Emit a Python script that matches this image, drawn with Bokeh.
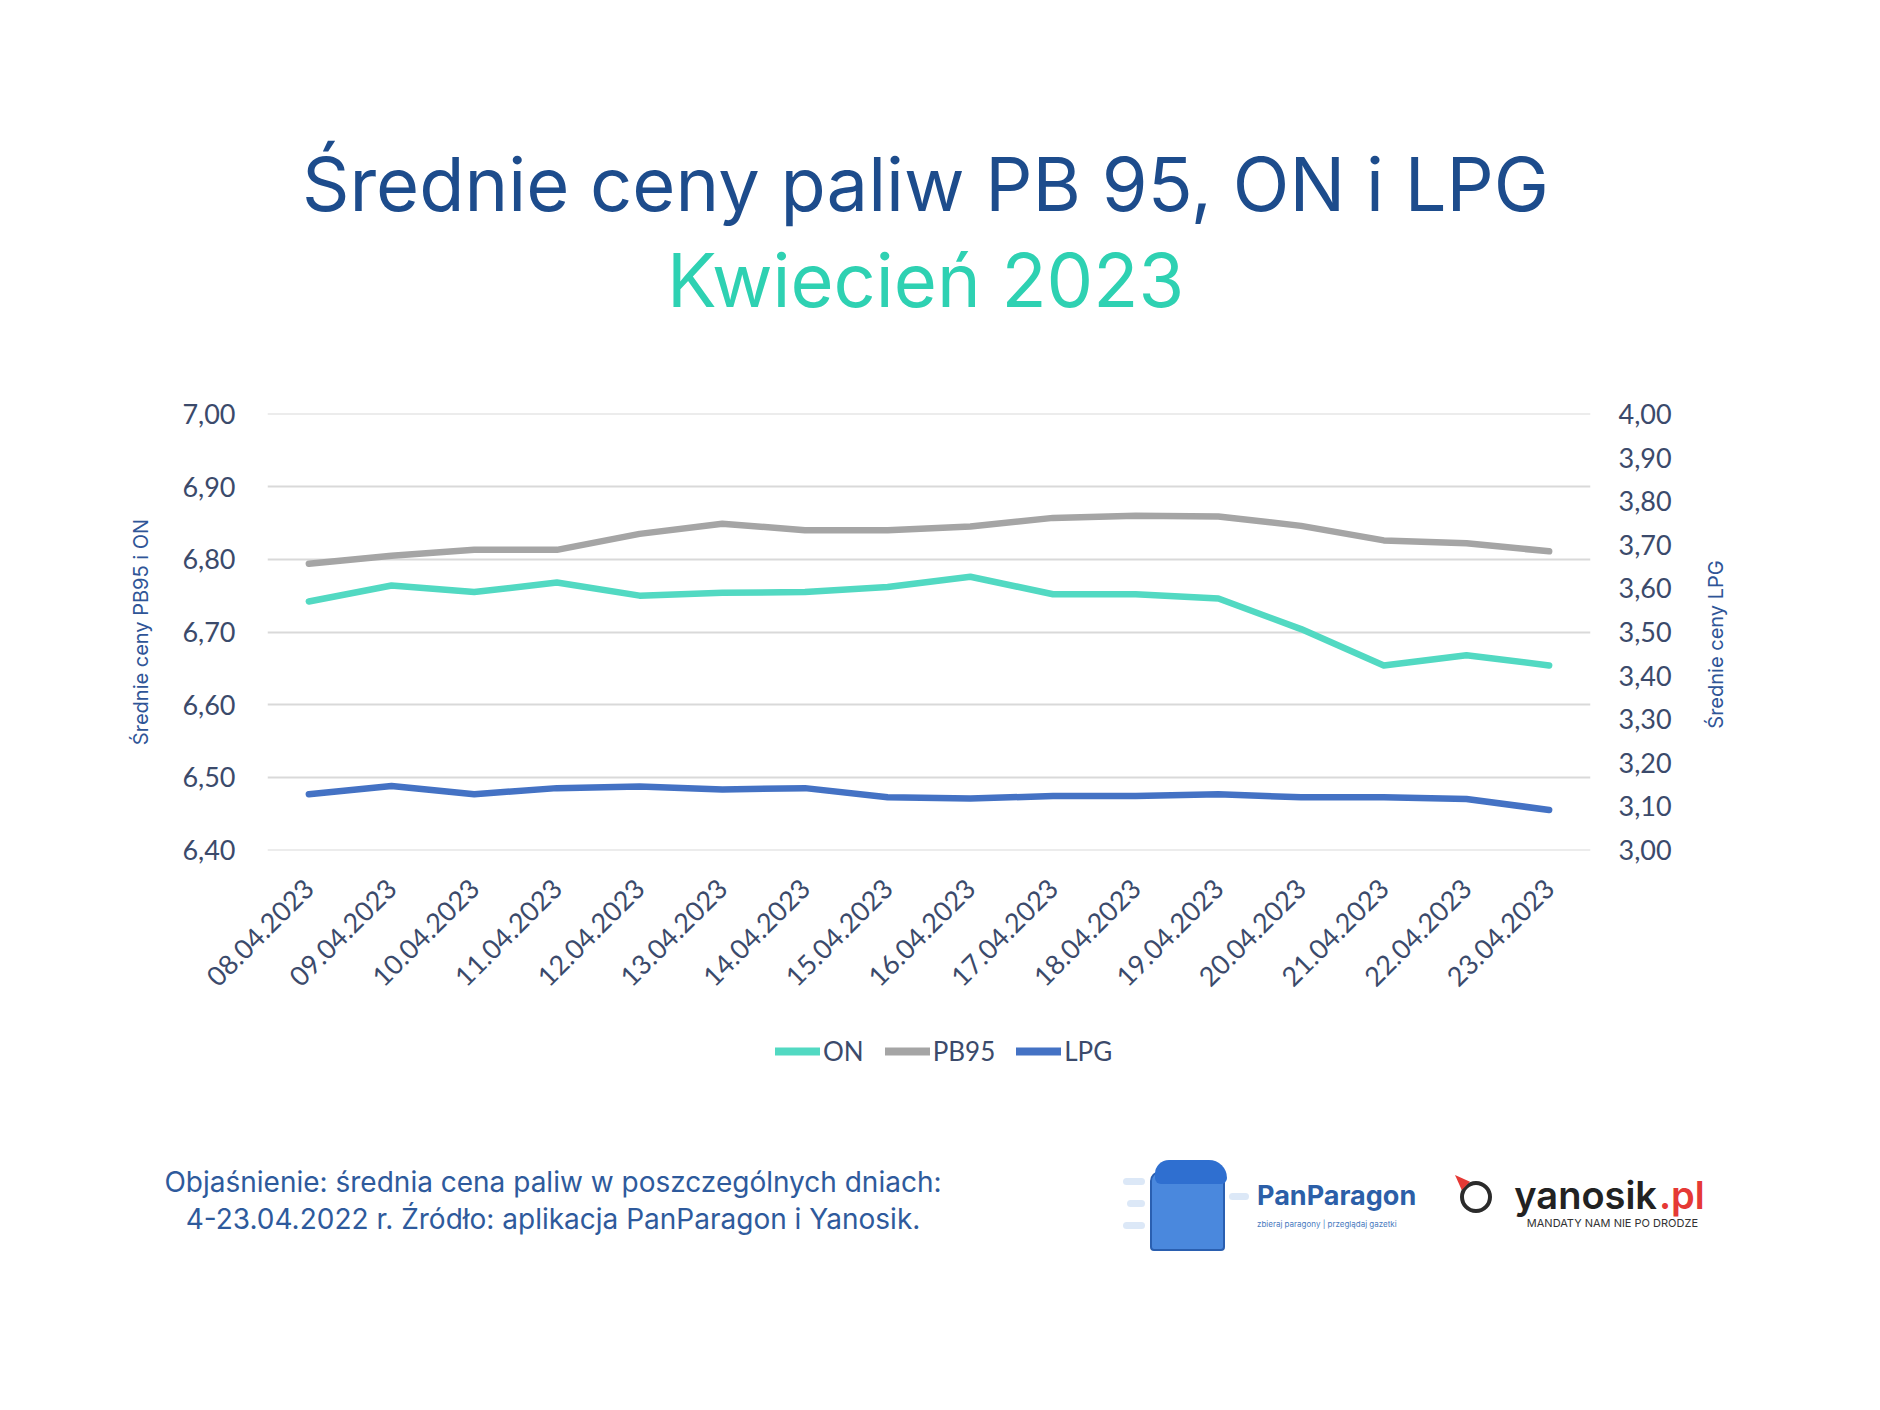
import math
from bokeh.plotting import figure
from bokeh.models import (Range1d, FactorRange, LinearAxis, FixedTicker, Label,
                          Legend, LegendItem, Div)
from bokeh.layouts import column, row
from bokeh.embed import file_html
from bokeh.resources import INLINE

# ---------------- data ----------------
dates = ["08.04.2023", "09.04.2023", "10.04.2023", "11.04.2023", "12.04.2023",
         "13.04.2023", "14.04.2023", "15.04.2023", "16.04.2023", "17.04.2023",
         "18.04.2023", "19.04.2023", "20.04.2023", "21.04.2023", "22.04.2023",
         "23.04.2023"]
on_prices = [6.742, 6.764, 6.755, 6.768, 6.750, 6.754, 6.755, 6.762,
             6.776, 6.752, 6.752, 6.746, 6.704, 6.654, 6.668, 6.654]
pb95_prices = [6.794, 6.805, 6.813, 6.813, 6.835, 6.849, 6.840, 6.840,
               6.845, 6.857, 6.860, 6.859, 6.846, 6.826, 6.822, 6.811]
lpg_prices = [3.128, 3.147, 3.128, 3.142, 3.146, 3.139, 3.142, 3.121,
              3.118, 3.124, 3.124, 3.128, 3.121, 3.121, 3.117, 3.092]
series_names = ["ON", "PB95", "LPG"]

left_ticks = [6.40, 6.50, 6.60, 6.70, 6.80, 6.90, 7.00]
left_tick_labels = ["6,40", "6,50", "6,60", "6,70", "6,80", "6,90", "7,00"]
right_ticks = [3.00, 3.10, 3.20, 3.30, 3.40, 3.50, 3.60, 3.70, 3.80, 3.90, 4.00]
right_tick_labels = ["3,00", "3,10", "3,20", "3,30", "3,40", "3,50", "3,60",
                     "3,70", "3,80", "3,90", "4,00"]

title_text = "Średnie ceny paliw PB 95, ON i LPG"
subtitle_text = "Kwiecień 2023"
left_axis_title = "Średnie ceny PB95 i ON"
right_axis_title = "Średnie ceny LPG"
footer_lines = ["Objaśnienie: średnia cena paliw w poszczególnych dniach:",
                "4-23.04.2022 r. Źródło: aplikacja PanParagon i Yanosik."]

# ---------------- styles ----------------
C_ON = "#52D9C2"
C_PB = "#A5A5A5"
C_LPG = "#4472C4"
C_TICK = "#3B4A6B"
C_AXT = "#2F5597"
C_TITLE = "#1D4C8C"
C_SUB = "#2ED1B2"
C_FOOT = "#2E5A9C"
TICK_FONT = "Lato"
TEXT_FONT = "Inter"

PW = 1864                      # page content width
TOP_END = 370                  # title strip: y 0..370
CHART_END = 1020               # chart strip: y 370..1020
LEG_END = 1100                 # legend strip: y 1020..1100
PAGE_B = 1394                  # footer strip: y 1100..1394
FRAME_L, FRAME_R, FRAME_T, FRAME_B = 267, 1590, 413, 850
CHART_W = 1690                 # chart figure width; right title strip after it
BASE_K = 0.39                  # baseline correction (em) for canvas labels


def strip(x0, x1, y0, y1, w, h, bl, br, bt, bb, xr=None):
    f = figure(width=w, height=h, output_backend="svg", toolbar_location=None,
               x_range=xr if xr is not None else Range1d(x0, x1),
               y_range=Range1d(y1, y0),
               min_border_left=bl, min_border_right=br,
               min_border_top=bt, min_border_bottom=bb,
               background_fill_color="white", border_fill_color="white")
    f.outline_line_color = None
    f.axis.visible = False
    f.grid.visible = False
    return f


def lab(f, text, X, Y, size, color, angle=0.0, baseline="alphabetic"):
    dy = BASE_K * size if baseline == "alphabetic" else 0
    f.add_layout(Label(x=X, y=Y - dy, text=text, text_font=TEXT_FONT,
                       text_font_size=f"{size}px", text_color=color,
                       text_align="center", text_baseline=baseline,
                       angle=angle))


# ---------------- title strip ----------------
top = strip(FRAME_L, FRAME_R, 0, TOP_END, PW, TOP_END,
            FRAME_L, PW - FRAME_R, 0, 0)
lab(top, title_text, 925, 212, 74, C_TITLE)
lab(top, subtitle_text, 925, 308, 74, C_SUB)

# ---------------- chart ----------------
eps = 0.0006
lo, hi = left_ticks[0], left_ticks[-1]
rlo, rhi = right_ticks[0], right_ticks[-1]
reps = eps * (rhi - rlo) / (hi - lo)

p = figure(width=CHART_W, height=CHART_END - TOP_END,
           output_backend="svg", toolbar_location=None,
           x_range=FactorRange(*dates, range_padding=0),
           y_range=Range1d(lo - eps, hi + eps),
           min_border_left=FRAME_L, min_border_right=CHART_W - FRAME_R,
           min_border_top=FRAME_T - TOP_END,
           min_border_bottom=CHART_END - FRAME_B,
           background_fill_color="white", border_fill_color="white")
p.outline_line_color = None
p.extra_y_ranges = {"lpg": Range1d(rlo - reps, rhi + reps)}

ya = p.yaxis[0]
ya.ticker = FixedTicker(ticks=left_ticks)
ya.major_label_overrides = {t: l for t, l in zip(left_ticks, left_tick_labels)}
ya.axis_line_color = None
ya.major_tick_line_color = None
ya.minor_tick_line_color = None
ya.major_label_standoff = 26
ya.major_label_text_font = TICK_FONT
ya.major_label_text_font_size = "27px"
ya.major_label_text_color = C_TICK
ya.axis_label = left_axis_title
ya.axis_label_text_font = TEXT_FONT
ya.axis_label_text_font_size = "20px"
ya.axis_label_text_font_style = "normal"
ya.axis_label_text_color = C_AXT
ya.axis_label_standoff = 26

ra = LinearAxis(y_range_name="lpg", ticker=FixedTicker(ticks=right_ticks))
ra.major_label_overrides = {t: l for t, l in zip(right_ticks, right_tick_labels)}
ra.axis_line_color = None
ra.major_tick_line_color = None
ra.minor_tick_line_color = None
ra.major_label_standoff = 22
ra.major_label_text_font = TICK_FONT
ra.major_label_text_font_size = "27px"
ra.major_label_text_color = C_TICK
p.add_layout(ra, "right")

xa = p.xaxis[0]
xa.axis_line_color = None
xa.major_tick_line_color = None
xa.minor_tick_line_color = None
xa.major_label_orientation = math.pi / 4
xa.major_label_standoff = 27
xa.major_label_text_font = TICK_FONT
xa.major_label_text_font_size = "27px"
xa.major_label_text_color = C_TICK

p.xgrid.grid_line_color = None
p.ygrid.grid_line_color = "#D9D9D9"
p.ygrid.grid_line_width = 2

colors = [C_ON, C_PB, C_LPG]
lw = 6.5
p.line(dates, pb95_prices, line_color=C_PB, line_width=lw,
       line_cap="round", line_join="round")
p.line(dates, on_prices, line_color=C_ON, line_width=lw,
       line_cap="round", line_join="round")
p.line(dates, lpg_prices, line_color=C_LPG, line_width=lw,
       line_cap="round", line_join="round", y_range_name="lpg")

# right title strip (same top/bottom borders so frames line up)
rs = strip(CHART_W, PW, FRAME_T, FRAME_B, PW - CHART_W, CHART_END - TOP_END,
           0, 0, FRAME_T - TOP_END, CHART_END - FRAME_B)
lab(rs, right_axis_title, 1715, 644, 20, C_AXT, angle=math.pi / 2,
    baseline="middle")

# ---------------- legend strip ----------------
leg = strip(0, 1, CHART_END, LEG_END, PW, LEG_END - CHART_END,
            FRAME_L, PW - FRAME_R, 0, 0,
            xr=FactorRange(*dates, range_padding=0))
leg.y_range = Range1d(0, 1)   # series values lie outside: only swatches show
sw = [leg.line(dates, vals, line_color=c, line_width=8, line_cap="round")
      for vals, c in zip([on_prices, pb95_prices, lpg_prices], colors)]
legend = Legend(items=[LegendItem(label=n, renderers=[r])
                       for n, r in zip(series_names, sw)],
                orientation="horizontal",
                location=(775 - FRAME_L, LEG_END - 1067),
                glyph_width=45, glyph_height=30, label_standoff=3, spacing=21,
                padding=0, margin=0, border_line_color=None,
                background_fill_alpha=0,
                label_text_font=TICK_FONT, label_text_font_size="26px",
                label_text_color=C_TICK, label_height=30)
leg.add_layout(legend, "center")

# ---------------- footer strip (HTML) ----------------
Y0 = LEG_END


def txt(text, base, fs, color, left=None, right=None, width=None,
        align="left", weight=400):
    top_px = base - Y0 - 0.863 * fs
    pos = f"left:{left}px;" if left is not None else f"right:{PW - right}px;"
    w = f"width:{width}px;" if width is not None else ""
    return (f'<div style="position:absolute;{pos}{w}top:{top_px:.1f}px;'
            f'font-family:Inter;font-size:{fs}px;line-height:{fs}px;'
            f'font-weight:{weight};color:{color};text-align:{align};'
            f'white-space:nowrap;">{text}</div>')


def box(left, top, w, h, style):
    return (f'<div style="position:absolute;left:{left}px;top:{top - Y0}px;'
            f'width:{w}px;height:{h}px;{style}"></div>')


parts = [
    txt(footer_lines[0], 1187, 28, C_FOOT, left=548 - 540, width=1080,
        align="center"),
    txt(footer_lines[1], 1224, 28, C_FOOT, left=548 - 540, width=1080,
        align="center"),
    box(1118, 1173, 22, 7, "background:#DCE8F7;border-radius:4px;"),
    box(1122, 1195, 18, 7, "background:#DCE8F7;border-radius:4px;"),
    box(1118, 1217, 22, 7, "background:#DCE8F7;border-radius:4px;"),
    box(1224, 1188, 20, 7, "background:#DCE8F7;border-radius:4px;"),
    box(1145, 1166, 75, 80, "background:#4A88DD;border:2px solid #2A5FB0;"
        "border-radius:10px 10px 4px 4px;box-sizing:border-box;"),
    box(1150, 1155, 72, 24, "background:#2F6FD0;border-radius:14px 18px 6px 6px;"),
    txt("PanParagon", 1200, 27, "#2C5FA8", left=1252, weight=700),
    txt("zbieraj paragony | przeglądaj gazetki", 1222, 8, "#4A7BC0",
        left=1252),
    box(1455, 1176, 32, 32, "border:4px solid #2B2B2B;border-radius:50%;"
        "box-sizing:border-box;"),
    box(1450, 1170, 15, 15, "background:#E53935;"
        "clip-path:polygon(0 0,100% 45%,45% 100%);"),
    txt("yanosik", 1204, 38, "#222222", right=1652, align="right", weight=600),
    txt(".pl", 1204, 38, "#E53935", left=1654, weight=600),
    txt("MANDATY NAM NIE PO DRODZE", 1222, 11, "#333333", right=1693,
        align="right"),
]
html = (f'<div style="position:relative;width:{PW}px;height:{PAGE_B - Y0}px;">'
        + "".join(parts) + "</div>")
foot = Div(text=html, width=PW, height=PAGE_B - Y0)

layout = column(top, row(p, rs), leg, foot)
open("out.html", "w").write(file_html(layout, INLINE))
